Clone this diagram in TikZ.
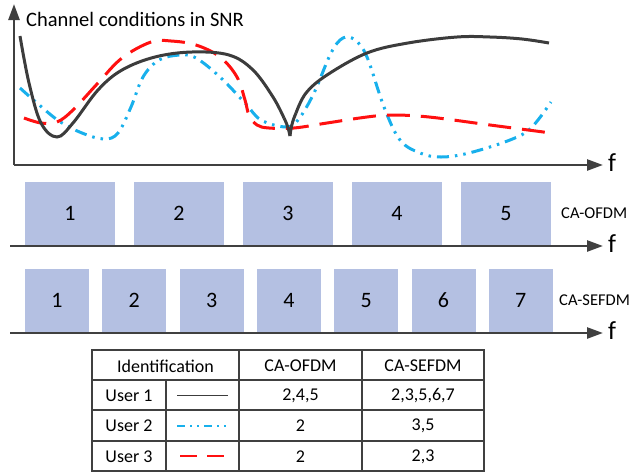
\documentclass[tikz,border=0pt]{standalone}
\usepackage{fontspec}
\setmainfont{Carlito}
\usetikzlibrary{arrows.meta}
\definecolor{axisgray}{HTML}{404040}
\definecolor{curveblack}{HTML}{3C3C3C}
\definecolor{curvered}{HTML}{FF1010}
\definecolor{curvecyan}{HTML}{18B0EC}
\definecolor{boxfill}{HTML}{B4C0E2}
\tikzset{
  axisline/.style={draw=axisgray, line width=2.5pt, -{Triangle[length=16pt,width=11pt]}},
  flabel/.style={font=\fontsize{26}{28}\selectfont, inner sep=0pt},
  ofdmbox/.style={fill=boxfill, draw=none, minimum width=90pt, minimum height=63pt, inner sep=0pt, font=\fontsize{22}{24}\selectfont},
  sefdmbox/.style={fill=boxfill, draw=none, minimum width=64pt, minimum height=63pt, inner sep=0pt, font=\fontsize{22}{24}\selectfont},
  sidelabel/.style={font=\fontsize{16.5}{18}\selectfont, inner sep=0pt},
  cell/.style={font=\fontsize{18}{20}\selectfont, inner sep=0pt},
  gridline/.style={draw=axisgray, line width=2.2pt},
  userone/.style={draw=curveblack, line width=3pt},
  usertwo/.style={draw=curvecyan, line width=3pt, dash pattern=on 12pt off 6pt on 2.5pt off 6pt on 2.5pt off 6pt},
  userthree/.style={draw=curvered, line width=3pt, dash pattern=on 23pt off 11pt},
}
\begin{document}
\begin{tikzpicture}[x=1pt,y=-1pt]
\useasboundingbox (0,0) rectangle (640,472);
% top chart axes
\coordinate (o) at (14,165);
\coordinate (ytop) at (14,4);
\coordinate (xend) at (603,165);
\draw[axisline] (o) -- (ytop);
\draw[axisline] (o) -- (xend);
\node[flabel, anchor=west] (f1) at (608,163) {f};
\node[font=\fontsize{20.5}{22}\selectfont, anchor=west, inner sep=0pt] (title) at (26,19) {Channel conditions in SNR};
% curves
\draw[usertwo, line cap=butt] plot[smooth, tension=0.6] coordinates {
 (20,88) (37,103) (59,121) (82,133) (104,139) (118,133) (131,107) (143,77)
 (159,60) (180,55) (196,58) (220,77) (245,103) (261,120) (286,127) (298,120)
 (314,93) (331,53) (343,38) (355,40) (367,57) (384,107) (400,140) (420,153)
 (441,157) (469,153) (510,140) (531,128) (551,102)};
\draw[userthree] plot[smooth, tension=0.6] coordinates {
 (24,118) (41,123) (57,122) (73,110) (98,83) (122,58) (151,42) (171,41)
 (196,45) (220,57) (237,77) (245,100) (249,115) (257,125) (269,128) (294,128)
 (327,123) (367,117) (392,115) (429,117) (490,125) (551,133)};
\draw[userone] plot[smooth, tension=0.6] coordinates {
 (20,36) (29,83) (41,123) (57,137) (73,123) (98,90) (122,70) (155,57)
 (192,52) (229,55) (253,70) (273,97) (284,118)};
\draw[userone] (284,118) .. controls (288,126) and (289,131) .. (290,136);
\draw[userone] (290,136) .. controls (291,128) and (292,122) .. (296,113);
\draw[userone] plot[smooth, tension=0.6] coordinates {
 (296,113) (306,93) (327,75) (367,53) (408,43) (457,37) (490,37) (522,39) (549,43)};
% CA-OFDM row
\foreach \i in {1,...,5} {
  \node[ofdmbox] (ob\i) at ({25+45+(\i-1)*109},213.5) {\i};
}
\node[sidelabel, anchor=west] (lofdm) at (561,213) {CA-OFDM};
\coordinate (oa) at (10,246);
\coordinate (oe) at (603,246);
\draw[axisline] (oa) -- (oe);
\node[flabel, anchor=west] (f2) at (608,244) {f};
% CA-SEFDM row
\foreach \i in {1,...,7} {
  \node[sefdmbox] (sb\i) at ({25+32+(\i-1)*77.3},300.5) {\i};
}
\node[sidelabel, anchor=west] (lsefdm) at (559,300) {CA-SEFDM};
\coordinate (sa) at (10,333);
\coordinate (se) at (603,333);
\draw[axisline] (sa) -- (se);
\node[flabel, anchor=west] (f3) at (608,331) {f};
% table
\draw[gridline] (92,350) rectangle (484,471);
\draw[gridline] (92,380) -- (484,380);
\draw[gridline] (92,410) -- (484,410);
\draw[gridline] (92,441) -- (484,441);
\draw[gridline] (166,380) -- (166,471);
\draw[gridline] (239,350) -- (239,471);
\draw[gridline] (362,350) -- (362,471);
\node[cell] (hid) at (165.5,366) {Identification};
\node[cell] (hofdm) at (300.5,366) {CA-OFDM};
\node[cell] (hsefdm) at (423,366) {CA-SEFDM};
\node[cell] (u1) at (129,396) {User 1};
\node[cell] (u2) at (129,426) {User 2};
\node[cell] (u3) at (129,456.5) {User 3};
\node[cell] (o1) at (300.5,396) {2,4,5};
\node[cell] (o2) at (300.5,426) {2};
\node[cell] (o3) at (300.5,456.5) {2};
\node[cell] (s1) at (423,396) {2,3,5,6,7};
\node[cell] (s2) at (423,426) {3,5};
\node[cell] (s3) at (423,456.5) {2,3};
\coordinate (la1) at (177,395.5);
\coordinate (lb1) at (228,395.5);
\coordinate (la2) at (177,426);
\coordinate (lb2) at (228,426);
\coordinate (la3) at (180,456);
\coordinate (lb3) at (225,456);
\draw[draw=curveblack, line width=1.8pt] (la1) -- (lb1);
\draw[draw=curvecyan, line width=1.8pt, dash pattern=on 8pt off 5pt on 2pt off 5pt on 2pt off 5pt] (la2) -- (lb2);
\draw[draw=curvered, line width=1.8pt, dash pattern=on 17pt off 10pt] (la3) -- (lb3);
\end{tikzpicture}
\end{document}
